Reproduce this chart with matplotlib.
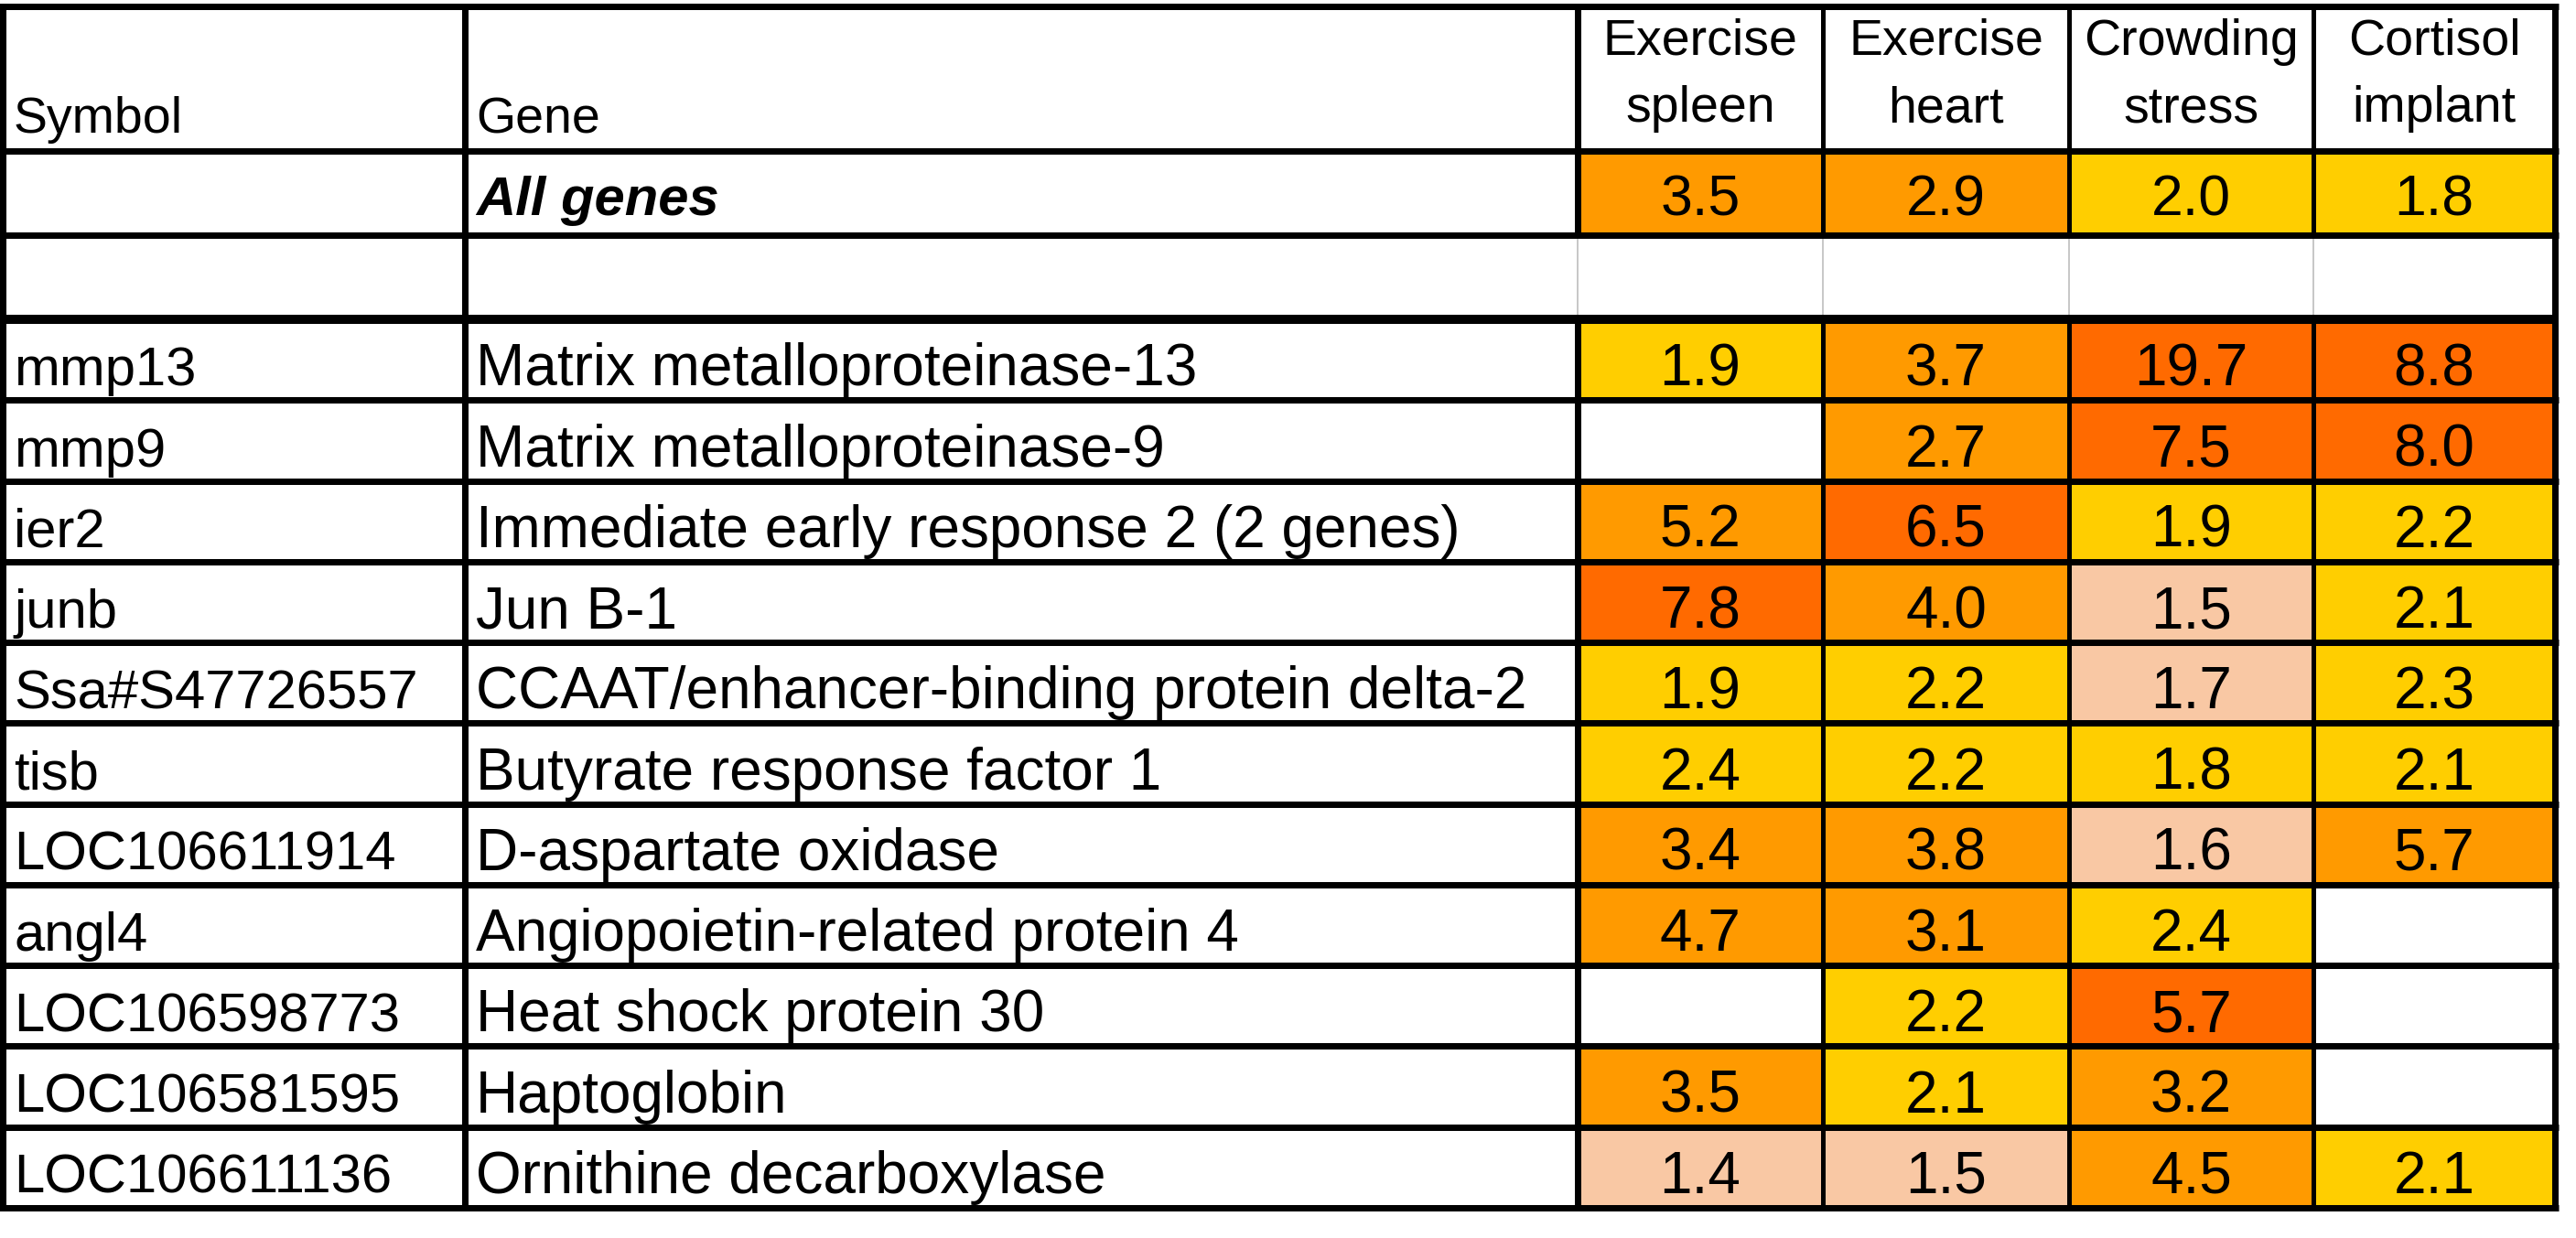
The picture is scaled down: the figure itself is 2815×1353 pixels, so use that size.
import matplotlib
matplotlib.use("Agg")
import matplotlib.pyplot as plt
from matplotlib import font_manager
from matplotlib.patches import Rectangle

# table content
col_titles = ["Exercise\nspleen", "Exercise\nheart", "Crowding\nstress", "Cortisol\nimplant"]
summary_label = "All genes"
summary_vals = ["3.5", "2.9", "2.0", "1.8"]
summary_lvl = ["O", "O", "Y", "Y"]

symbols = ["mmp13", "mmp9", "ier2", "junb", "Ssa#S47726557", "tisb",
           "LOC106611914", "angl4", "LOC106598773", "LOC106581595", "LOC106611136"]
genes = ["Matrix metalloproteinase-13",
         "Matrix metalloproteinase-9",
         "Immediate early response 2 (2 genes)",
         "Jun B-1",
         "CCAAT/enhancer-binding protein delta-2",
         "Butyrate response factor 1",
         "D-aspartate oxidase",
         "Angiopoietin-related protein 4",
         "Heat shock protein 30",
         "Haptoglobin",
         "Ornithine decarboxylase"]
values = [
    ["1.9", "3.7", "19.7", "8.8"],
    [None, "2.7", "7.5", "8.0"],
    ["5.2", "6.5", "1.9", "2.2"],
    ["7.8", "4.0", "1.5", "2.1"],
    ["1.9", "2.2", "1.7", "2.3"],
    ["2.4", "2.2", "1.8", "2.1"],
    ["3.4", "3.8", "1.6", "5.7"],
    ["4.7", "3.1", "2.4", None],
    [None, "2.2", "5.7", None],
    ["3.5", "2.1", "3.2", None],
    ["1.4", "1.5", "4.5", "2.1"],
]
# colour class of each cell: D dark orange, O orange, Y yellow, P peach
levels = [
    ["Y", "O", "D", "D"],
    [None, "O", "D", "D"],
    ["O", "D", "Y", "Y"],
    ["D", "O", "P", "Y"],
    ["Y", "Y", "P", "Y"],
    ["Y", "Y", "Y", "Y"],
    ["O", "O", "P", "O"],
    ["O", "O", "Y", None],
    [None, "Y", "D", None],
    ["O", "Y", "O", None],
    ["P", "P", "O", "Y"],
]
palette = {"D": "#FF6A00", "O": "#FF9A00", "Y": "#FFCE00", "P": "#F9C8A4"}

# layout in pixels
W, H = 2815, 1353
x_edges = [3, 508, 1724, 1992, 2261, 2528, 2792]
y_top, y_head, y_sum, y_blank, y_bot = 7, 165, 257, 349, 1320
n = len(symbols)
row_h = (y_bot - y_blank) / n
row_edges = [y_blank + i * row_h for i in range(n + 1)]

names = {f.name for f in font_manager.fontManager.ttflist}
fam = "Liberation Sans" if "Liberation Sans" in names else "DejaVu Sans"
plt.rcParams["font.family"] = fam
fs_head = 40
fs_sym = 43
fs_body = 46

fig = plt.figure(figsize=(W / 100, H / 100), dpi=100)
ax = fig.add_axes([0, 0, 1, 1])
ax.set_xlim(0, W)
ax.set_ylim(H, 0)
ax.axis("off")

def fill(x0, x1, y0, y1, lvl):
    if lvl:
        ax.add_patch(Rectangle((x0, y0), x1 - x0, y1 - y0, color=palette[lvl], lw=0, zorder=1))

# header
ax.text(x_edges[0] + 12, y_head - 20, "Symbol", fontsize=fs_head, va="baseline", zorder=3)
ax.text(x_edges[1] + 12, y_head - 20, "Gene", fontsize=fs_head, va="baseline", zorder=3)
for j, t in enumerate(col_titles):
    cx = (x_edges[j + 2] + x_edges[j + 3]) / 2
    top, bottom = t.split("\n")
    ax.text(cx, y_top + 53, top, fontsize=fs_head, ha="center", va="baseline", zorder=3)
    ax.text(cx, y_head - 32, bottom, fontsize=fs_head, ha="center", va="baseline", zorder=3)

# summary row
ax.text(x_edges[1] + 12, y_sum - 22, summary_label, fontsize=43, fontweight="bold",
        fontstyle="italic", va="baseline", zorder=3)
for j, v in enumerate(summary_vals):
    x0, x1 = x_edges[j + 2], x_edges[j + 3]
    fill(x0, x1, y_head, y_sum, summary_lvl[j])
    ax.text((x0 + x1) / 2, y_sum - 22, v, fontsize=45, ha="center", va="baseline", zorder=3)

# gene rows
for i in range(n):
    y0, y1 = row_edges[i], row_edges[i + 1]
    ax.text(x_edges[0] + 12, y1 - 16, symbols[i], fontsize=fs_sym, va="baseline", zorder=3)
    ax.text(x_edges[1] + 12, y1 - 16, genes[i], fontsize=fs_body, va="baseline", zorder=3)
    for j in range(4):
        x0, x1 = x_edges[j + 2], x_edges[j + 3]
        fill(x0, x1, y0, y1, levels[i][j])
        if values[i][j] is not None:
            ax.text((x0 + x1) / 2, y1 - 16, values[i][j], fontsize=fs_body,
                    ha="center", va="baseline", zorder=3)

# grid lines
px = 0.72
for y in [y_top, y_head, y_sum] + row_edges[1:]:
    ax.plot([x_edges[0] - 3, x_edges[-1] + 4], [y, y], color="black", lw=7 * px,
            solid_capstyle="butt", zorder=4)
ax.plot([x_edges[0] - 3, x_edges[-1] + 4], [y_blank, y_blank], color="black", lw=10 * px,
        solid_capstyle="butt", zorder=4)

for k, x in enumerate(x_edges):
    major = k in (0, 1, len(x_edges) - 1)
    lw = 7 * px if k in (0, 1, 2, len(x_edges) - 1) else 5 * px
    if major:
        ax.plot([x, x], [y_top, y_bot], color="black", lw=lw, zorder=4)
    else:
        ax.plot([x, x], [y_top, y_sum], color="black", lw=lw, zorder=4)
        ax.plot([x, x], [y_sum, y_blank], color="#C8C8C8", lw=2 * px, zorder=3)
        ax.plot([x, x], [y_blank, y_bot], color="black", lw=lw, zorder=4)

fig.savefig("out.png", dpi=100, facecolor="white")
